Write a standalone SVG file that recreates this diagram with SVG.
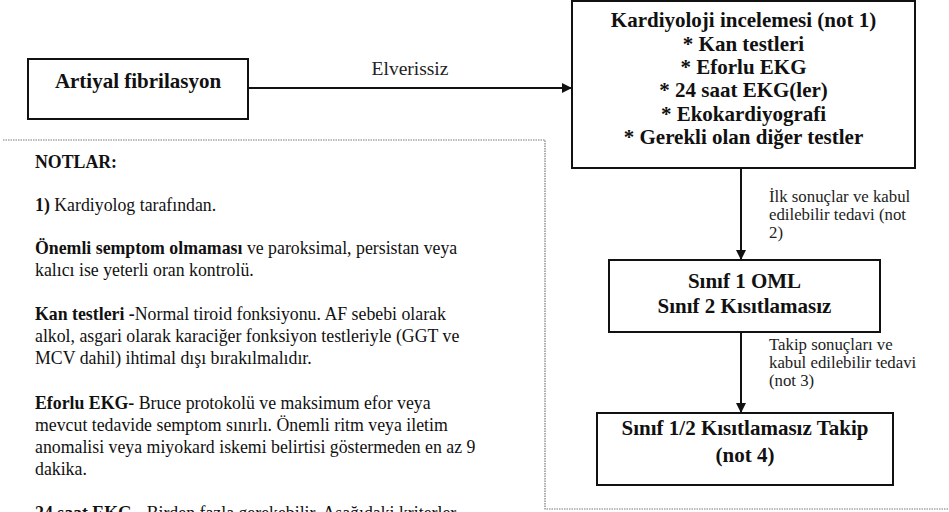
<svg xmlns="http://www.w3.org/2000/svg" width="949" height="512" viewBox="0 0 949 512">
<style>
.box{fill:#fff;stroke:#111;stroke-width:2}
.bt{font-family:'Liberation Serif','Times New Roman','DejaVu Serif',serif;font-weight:bold;fill:#111;text-anchor:middle;font-size:21px}
.lbl{font-family:'Liberation Serif','Times New Roman','DejaVu Serif',serif;font-size:16.8px;fill:#222}
.lbl.big{font-size:19.5px}
.nt{font-family:'Liberation Serif','Times New Roman','DejaVu Serif',serif;font-size:17.8px;fill:#111}
.b{font-weight:bold}
.edge{stroke:#111;stroke-width:2;fill:none}
.dots{fill:none;stroke:#777;stroke-width:1.2;stroke-dasharray:1.5 1}
</style>
<defs>
<marker id="ah" viewBox="0 0 10 10" refX="10" refY="5" markerWidth="5" markerHeight="5" orient="auto" markerUnits="strokeWidth">
<path d="M0,0 L10,5 L0,10 z" fill="#111"/>
</marker>
</defs>
<rect width="949" height="512" fill="#fff"/>
<g id="notes-frame">
<polyline class="dots" points="3,140 545,140 545,509 949,509"/>
</g>
<g id="connectors">
<line class="edge" x1="248" y1="88" x2="572" y2="88" marker-end="url(#ah)"/>
<text class="lbl big" x="410" y="75" text-anchor="middle">Elverissiz</text>
<line class="edge" x1="741" y1="168" x2="741" y2="260" marker-end="url(#ah)"/>
<text class="lbl" x="769" y="202">İlk sonuçlar ve kabul</text>
<text class="lbl" x="769" y="220">edilebilir tedavi (not</text>
<text class="lbl" x="769" y="238">2)</text>
<line class="edge" x1="741" y1="332" x2="741" y2="413" marker-end="url(#ah)"/>
<text class="lbl" x="769" y="350">Takip sonuçları ve</text>
<text class="lbl" x="769" y="368">kabul edilebilir tedavi</text>
<text class="lbl" x="769" y="386">(not 3)</text>
</g>
<g id="af">
<rect class="box" x="28" y="59" width="220" height="60"/>
<text class="bt" x="138" y="88">Artiyal fibrilasyon</text>
</g>
<g id="kardiyoloji">
<rect class="box" x="572" y="1" width="343" height="167"/>
<text class="bt" x="743.5" y="27">Kardiyoloji incelemesi (not 1)</text>
<text class="bt" x="743.5" y="50.5">* Kan testleri</text>
<text class="bt" x="743.5" y="74">* Eforlu EKG</text>
<text class="bt" x="743.5" y="97">* 24 saat EKG(ler)</text>
<text class="bt" x="743.5" y="121">* Ekokardiyografi</text>
<text class="bt" x="743.5" y="144">* Gerekli olan diğer testler</text>
</g>
<g id="sinif12">
<rect class="box" x="609" y="260" width="271" height="72"/>
<text class="bt" x="744.5" y="288">Sınıf 1 OML</text>
<text class="bt" x="744.5" y="313">Sınıf 2 Kısıtlamasız</text>
</g>
<g id="takip">
<rect class="box" x="597" y="413" width="296" height="72"/>
<text class="bt" x="745" y="435">Sınıf 1/2 Kısıtlamasız Takip</text>
<text class="bt" x="745" y="462">(not 4)</text>
</g>
<g id="notes">
<text class="nt" x="35" y="168"><tspan class="b">NOTLAR:</tspan></text>
<text class="nt" x="35" y="211"><tspan class="b">1)</tspan> Kardiyolog tarafından.</text>
<text class="nt" x="35" y="254"><tspan class="b">Önemli semptom olmaması</tspan> ve paroksimal, persistan veya</text>
<text class="nt" x="35" y="276">kalıcı ise yeterli oran kontrolü.</text>
<text class="nt" x="35" y="320"><tspan class="b">Kan testleri -</tspan>Normal tiroid fonksiyonu. AF sebebi olarak</text>
<text class="nt" x="35" y="342">alkol, asgari olarak karaciğer fonksiyon testleriyle (GGT ve</text>
<text class="nt" x="35" y="364">MCV dahil) ihtimal dışı bırakılmalıdır.</text>
<text class="nt" x="35" y="409"><tspan class="b">Eforlu EKG-</tspan> Bruce protokolü ve maksimum efor veya</text>
<text class="nt" x="35" y="431">mevcut tedavide semptom sınırlı. Önemli ritm veya iletim</text>
<text class="nt" x="35" y="453">anomalisi veya miyokard iskemi belirtisi göstermeden en az 9</text>
<text class="nt" x="35" y="475">dakika.</text>
<text class="nt" x="35" y="519"><tspan class="b">24 saat EKG</tspan> - Birden fazla gerekebilir. Aşağıdaki kriterler</text>
</g>
</svg>
